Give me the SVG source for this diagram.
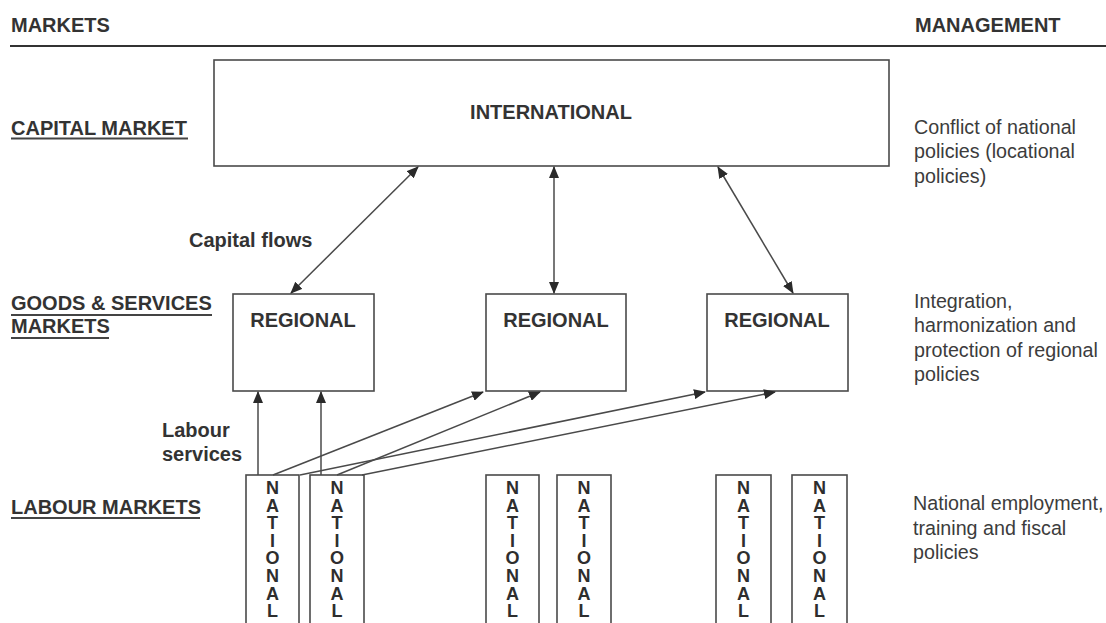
<svg xmlns="http://www.w3.org/2000/svg" width="1106" height="623" viewBox="0 0 1106 623">
<defs>
<style>
.b{font-family:"Liberation Sans",Arial,sans-serif;font-weight:bold;font-size:20px;fill:#333}
.r{font-family:"Liberation Sans",Arial,sans-serif;font-size:19.7px;fill:#3c3c3c}
.v{font-family:"Liberation Sans",Arial,sans-serif;font-weight:bold;font-size:18px;fill:#2e2e2e;writing-mode:vertical-rl;text-orientation:upright;letter-spacing:-2.4px}
.box{fill:#fff;stroke:#4a4a4a;stroke-width:1.6}
.ul{stroke:#444;stroke-width:2}
.c{stroke:#4a4a4a;stroke-width:1.5;fill:none}
</style>
<marker id="ah" markerWidth="12" markerHeight="10" refX="11" refY="5" orient="auto" markerUnits="userSpaceOnUse">
<path d="M0,0 L12,5 L0,10 Z" fill="#2a2a2a"/>
</marker>
<marker id="as" markerWidth="12" markerHeight="10" refX="1" refY="5" orient="auto" markerUnits="userSpaceOnUse">
<path d="M12,0 L0,5 L12,10 Z" fill="#2a2a2a"/>
</marker>
</defs>
<rect width="1106" height="623" fill="#fff"/>

<g id="headers">
<text class="b" x="11" y="32">MARKETS</text>
<text class="b" x="915" y="32">MANAGEMENT</text>
<line x1="10" y1="46" x2="1106" y2="46" stroke="#333" stroke-width="2"/>
</g>

<g id="row-labels">
<text class="b" x="11" y="135">CAPITAL MARKET</text>
<line class="ul" x1="11" y1="138.5" x2="188" y2="138.5"/>
<text class="b" x="11" y="310">GOODS &amp; SERVICES</text>
<line class="ul" x1="11" y1="315" x2="212" y2="315"/>
<text class="b" x="11" y="333">MARKETS</text>
<line class="ul" x1="11" y1="338" x2="109" y2="338"/>
<text class="b" x="11" y="514">LABOUR MARKETS</text>
<line class="ul" x1="11" y1="518" x2="200" y2="518"/>
</g>

<g id="management">
<text class="r" x="914" y="134">Conflict of national</text>
<text class="r" x="914" y="158">policies (locational</text>
<text class="r" x="914" y="183">policies)</text>
<text class="r" x="914" y="308">Integration,</text>
<text class="r" x="914" y="332">harmonization and</text>
<text class="r" x="914" y="357">protection of regional</text>
<text class="r" x="914" y="381">policies</text>
<text class="r" x="913" y="510">National employment,</text>
<text class="r" x="913" y="535">training and fiscal</text>
<text class="r" x="913" y="559">policies</text>
</g>

<g id="international">
<rect class="box" x="214" y="60" width="675" height="106"/>
<text class="b" x="551" y="119" text-anchor="middle">INTERNATIONAL</text>
</g>

<g id="regional1">
<rect class="box" x="233" y="294" width="141" height="97"/>
<text class="b" x="303" y="327" text-anchor="middle">REGIONAL</text>
</g>
<g id="regional2">
<rect class="box" x="486" y="294" width="140" height="97"/>
<text class="b" x="556" y="327" text-anchor="middle">REGIONAL</text>
</g>
<g id="regional3">
<rect class="box" x="707" y="294" width="141" height="97"/>
<text class="b" x="777" y="327" text-anchor="middle">REGIONAL</text>
</g>

<g id="national1">
<rect class="box" x="246" y="475" width="53" height="160"/>
<text class="v" x="272.5" y="478">NATIONAL</text>
</g>
<g id="national2">
<rect class="box" x="310" y="475" width="54" height="160"/>
<text class="v" x="337" y="478">NATIONAL</text>
</g>
<g id="national3">
<rect class="box" x="486" y="475" width="53" height="160"/>
<text class="v" x="512.5" y="478">NATIONAL</text>
</g>
<g id="national4">
<rect class="box" x="557" y="475" width="54" height="160"/>
<text class="v" x="584" y="478">NATIONAL</text>
</g>
<g id="national5">
<rect class="box" x="716" y="475" width="55" height="160"/>
<text class="v" x="743.5" y="478">NATIONAL</text>
</g>
<g id="national6">
<rect class="box" x="792" y="475" width="55" height="160"/>
<text class="v" x="819.5" y="478">NATIONAL</text>
</g>

<g id="connectors">
<line class="c" x1="418" y1="167" x2="291" y2="293" marker-start="url(#as)" marker-end="url(#ah)"/>
<line class="c" x1="554" y1="167" x2="554" y2="293" marker-start="url(#as)" marker-end="url(#ah)"/>
<line class="c" x1="718" y1="167" x2="793" y2="293" marker-start="url(#as)" marker-end="url(#ah)"/>
<line class="c" x1="258" y1="475" x2="258" y2="392" marker-end="url(#ah)"/>
<line class="c" x1="321" y1="475" x2="321" y2="392" marker-end="url(#ah)"/>
<line class="c" x1="273" y1="475" x2="483" y2="392" marker-end="url(#ah)"/>
<line class="c" x1="300" y1="475" x2="705" y2="392" marker-end="url(#ah)"/>
<line class="c" x1="337" y1="475" x2="540" y2="392" marker-end="url(#ah)"/>
<line class="c" x1="362" y1="475" x2="775" y2="392" marker-end="url(#ah)"/>
<text class="b" x="189" y="247">Capital flows</text>
<text class="b" x="162" y="437">Labour</text>
<text class="b" x="162" y="461">services</text>
</g>
</svg>
